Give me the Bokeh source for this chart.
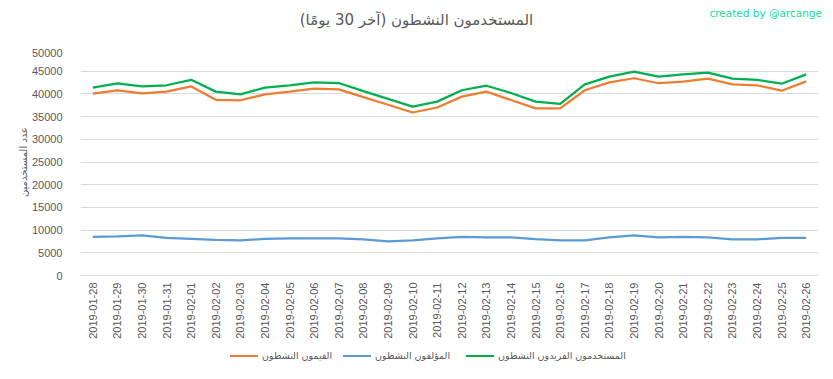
import math
from bokeh.plotting import figure
from bokeh.layouts import column
from bokeh.models import (Div, FactorRange, Range1d, SingleIntervalTicker,
                          ColumnDataSource)
from bokeh.embed import file_html
from bokeh.resources import INLINE

dates = ["2019-01-28", "2019-01-29", "2019-01-30", "2019-01-31", "2019-02-01",
         "2019-02-02", "2019-02-03", "2019-02-04", "2019-02-05", "2019-02-06",
         "2019-02-07", "2019-02-08", "2019-02-09", "2019-02-10", "2019-02-11",
         "2019-02-12", "2019-02-13", "2019-02-14", "2019-02-15", "2019-02-16",
         "2019-02-17", "2019-02-18", "2019-02-19", "2019-02-20", "2019-02-21",
         "2019-02-22", "2019-02-23", "2019-02-24", "2019-02-25", "2019-02-26"]

curators = [40050, 40800, 40100, 40500, 41650, 38700, 38600, 39900, 40500, 41150,
            41000, 39300, 37600, 35900, 37000, 39400, 40500, 38650, 36800, 36800,
            40800, 42550, 43450, 42350, 42700, 43350, 42100, 41900, 40700, 42750]

authors = [8530, 8600, 8820, 8300, 8090, 7870, 7720, 8090, 8160, 8160,
           8160, 7940, 7500, 7720, 8160, 8530, 8380, 8380, 8010, 7720,
           7720, 8380, 8820, 8380, 8530, 8380, 7940, 7940, 8310, 8310]

unique_users = [41400, 42300, 41650, 41900, 43100, 40500, 39900, 41400, 41900, 42550,
                42400, 40600, 38900, 37200, 38300, 40800, 41800, 40200, 38300, 37800,
                42100, 43800, 44900, 43800, 44300, 44700, 43350, 43100, 42250, 44300]

series_labels = ["القيمون النشطون", "المؤلفون النشطون", "المستخدمون الفريدون النشطون"]
series_colors = ["#ed7d31", "#5b9bd5", "#00b050"]
title_text = "المستخدمون النشطون (آخر 30 يومًا)"
y_title = "عدد المستخدمين"
credit = "created by @arcange"

GRAY = "#595959"
FONT = "Liberation Sans"

src = ColumnDataSource(dict(d=dates, cur=curators, aut=authors, uni=unique_users))

header = Div(
    text=(
        '<div style="position:relative;width:833px;height:48px;">'
        '<div dir="rtl" style="position:absolute;left:0;top:10px;width:833px;'
        "text-align:center;font-family:'DejaVu Sans';font-size:15px;"
        f'color:{GRAY};white-space:nowrap;">{title_text}</div>'
        '<div style="position:absolute;right:11px;top:6px;'
        "font-family:'DejaVu Sans';font-size:10.5px;color:#14dca0;"
        f'white-space:nowrap;">{credit}</div>'
        '</div>'
    ),
    width=833, height=48, margin=(0, 0, 0, 0))

p = figure(x_range=FactorRange(*dates, range_padding=0),
           y_range=Range1d(0, 50000),
           frame_width=738, frame_height=227, title=None,
           min_border_left=80, min_border_right=15, min_border_top=0, min_border_bottom=74,
           output_backend="svg", toolbar_location=None, margin=(0, 0, 0, 0))

p.outline_line_color = None
p.background_fill_color = "white"
p.border_fill_color = "white"

# grid
p.xgrid.grid_line_color = None
p.ygrid.grid_line_color = "#d9d9d9"
p.ygrid.grid_line_width = 1

# y axis
p.yaxis.ticker = SingleIntervalTicker(interval=5000)
p.yaxis.axis_line_color = None
p.yaxis.major_tick_line_color = None
p.yaxis.minor_tick_line_color = None
p.yaxis.major_label_standoff = 12
p.yaxis.major_label_text_font = FONT
p.yaxis.major_label_text_font_size = "11px"
p.yaxis.major_label_text_color = GRAY
p.yaxis.axis_label = y_title
p.yaxis.axis_label_text_font = "DejaVu Sans"
p.yaxis.axis_label_text_font_size = "10px"
p.yaxis.axis_label_text_font_style = "normal"
p.yaxis.axis_label_text_color = GRAY
p.yaxis.axis_label_standoff = 0

# x axis
p.xaxis.axis_line_color = "#d9d9d9"
p.xaxis.major_tick_line_color = None
p.xaxis.major_tick_out = 0
p.xaxis.major_tick_in = 0
p.xaxis.minor_tick_line_color = None
p.xaxis.minor_tick_out = 0
p.xaxis.major_label_orientation = math.pi / 2
p.xaxis.major_label_standoff = 7
p.xaxis.major_label_text_font = FONT
p.xaxis.major_label_text_font_size = "11px"
p.xaxis.major_label_text_color = GRAY

p.line(x="d", y="cur", source=src, line_color=series_colors[0], line_width=2.25)
p.line(x="d", y="aut", source=src, line_color=series_colors[1], line_width=2.25)
p.line(x="d", y="uni", source=src, line_color=series_colors[2], line_width=2.25)

# legend row (HTML, below the plot)
sample_left = [230, 343, 466]
parts = ['<div style="position:relative;width:833px;height:30px;">']
for lbl, col, x0 in zip(series_labels, series_colors, sample_left):
    parts.append(f'<div style="position:absolute;left:{x0}px;top:6px;width:28px;'
                 f'height:2px;background:{col};"></div>')
    parts.append(f'<div dir="rtl" style="position:absolute;left:{x0 + 32}px;top:1px;'
                 "font-family:'DejaVu Sans';font-size:9.5px;line-height:12px;"
                 f'color:{GRAY};white-space:nowrap;">{lbl}</div>')
parts.append('</div>')
footer = Div(text="".join(parts), width=833, height=30, margin=(0, 0, 0, 0))

layout = column(header, p, footer, spacing=0, margin=(0, 0, 0, 0))

open("out.html", "w").write(file_html(layout, INLINE))
